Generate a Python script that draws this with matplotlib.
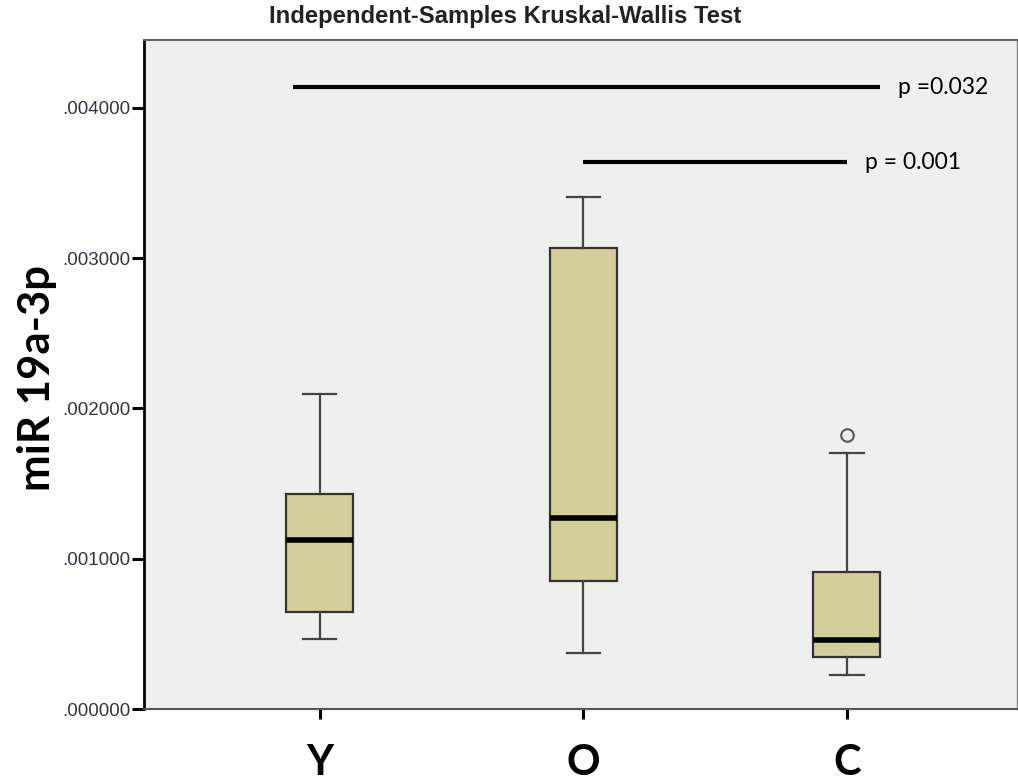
import matplotlib.pyplot as plt

# group summaries (Tukey box stats) for miR 19a-3p
groups = ['Y', 'O', 'C']
whislo = [0.000466, 0.000373, 0.000226]
q1 = [0.000645, 0.000852, 0.000346]
med = [0.001124, 0.001271, 0.000459]
q3 = [0.001430, 0.003067, 0.000911]
whishi = [0.002096, 0.003406, 0.001703]
fliers = [[], [], [0.001823]]

yticks = [0.0, 0.001, 0.002, 0.003, 0.004]
ytick_labels = ['.000000', '.001000', '.002000', '.003000', '.004000']

# pairwise comparisons: (x start, x end, height, label)
sig_x0 = [0.9, 2.0]
sig_x1 = [3.125, 3.0]
sig_y = [0.004138, 0.003639]
sig_text = ['p =0.032', 'p = 0.001']

fig = plt.figure(figsize=(10.18, 7.8), dpi=100)
ax = fig.add_axes([0.1415, 0.091, 0.8575, 0.8577])
ax.set_facecolor('#efefef')

stats = []
for i in range(len(groups)):
    stats.append({'label': groups[i], 'whislo': whislo[i], 'q1': q1[i], 'med': med[i],
                  'q3': q3[i], 'whishi': whishi[i], 'fliers': fliers[i]})

ax.bxp(stats, positions=[1, 2, 3], widths=0.254, patch_artist=True,
       boxprops=dict(facecolor='#d3ce9a', edgecolor='#333333', linewidth=1.6),
       medianprops=dict(color='black', linewidth=4, solid_capstyle='butt'),
       whiskerprops=dict(color='#444444', linewidth=1.6),
       capprops=dict(color='#444444', linewidth=1.6),
       capwidths=0.127,
       flierprops=dict(marker='o', markerfacecolor='none', markeredgecolor='#555555',
                       markersize=9, markeredgewidth=1.5))

for x0, x1, y, t in zip(sig_x0, sig_x1, sig_y, sig_text):
    ax.plot([x0, x1], [y, y], color='black', linewidth=3, solid_capstyle='butt')
    ax.text(x1 + 0.07, y, t, fontsize=16.5, family='Lato', va='center', ha='left')

ax.set_xlim(0.334, 3.645)
ax.set_ylim(0, 0.004451)
ax.set_yticks(yticks)
ax.set_yticklabels(ytick_labels, fontsize=13.5, family='Liberation Sans', color='#333344')
ax.set_xticks([1, 2, 3])
ax.set_xticklabels(groups, fontsize=30, family='Lato', fontweight='bold')
ax.tick_params(axis='y', length=9, width=2.2, color='black', pad=1)
ax.tick_params(axis='x', length=7, width=2.2, color='black', pad=18)

ax.spines['left'].set_color('black')
ax.spines['left'].set_linewidth(2)
ax.spines['bottom'].set_color('#555555')
ax.spines['bottom'].set_linewidth(1.5)
ax.spines['top'].set_color('#666666')
ax.spines['top'].set_linewidth(1.5)
ax.spines['right'].set_color('#888888')
ax.spines['right'].set_linewidth(1)

ax.set_ylabel('miR 19a-3p', fontsize=31.5, family='Lato', fontweight='bold')
ax.yaxis.set_label_coords(-0.1, 0.495)

fig.text(505 / 1018, 1 - 16 / 780, 'Independent-Samples Kruskal-Wallis Test',
         fontsize=17.2, family='Liberation Sans', fontweight='bold', color='#222222',
         ha='center', va='center')

fig.savefig('out.png', dpi=100)
